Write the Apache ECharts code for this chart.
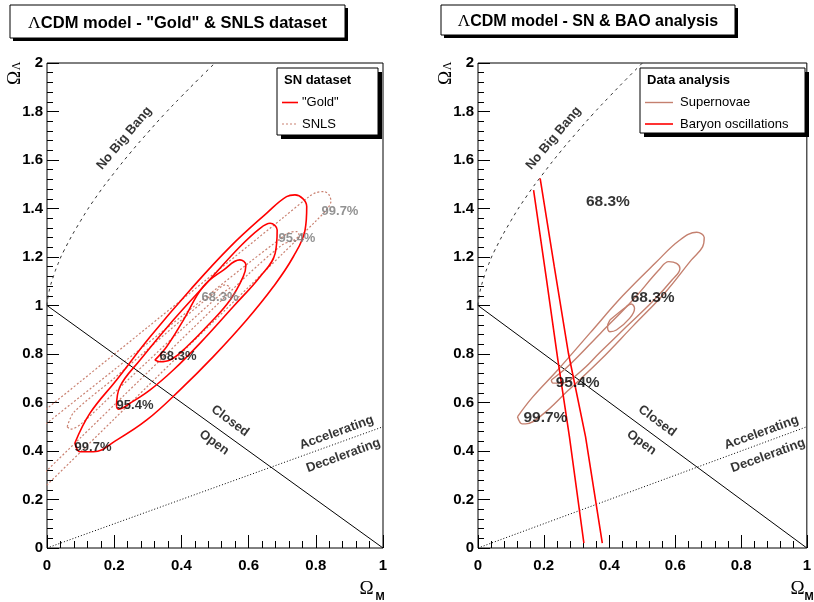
<!DOCTYPE html>
<html><head><meta charset="utf-8">
<script src="https://cdn.jsdelivr.net/npm/echarts@6.0.0/dist/echarts.min.js"></script>
<style>html,body{margin:0;padding:0;background:#fff}#c{width:814px;height:602px}</style>
</head><body><div id="c"></div><script>
// ---- data (Omega_M, Omega_Lambda) ----
const closedLine = [[0, 1], [1, 0]];
const accelLine = [[0, 0], [1, 0.5]];
const noBigBang = [[0, 1.0], [0.001, 1.015], [0.003, 1.036], [0.005, 1.05], [0.01, 1.08], [0.02, 1.124], [0.03, 1.162], [0.05, 1.225], [0.1, 1.349], [0.15, 1.455], [0.2, 1.547], [0.25, 1.633], [0.3, 1.713], [0.35, 1.79], [0.4, 1.862], [0.45, 1.932], [0.5, 2.0]];

const gold683 = [[0.321,0.775],[0.356,0.830],[0.406,0.940],[0.465,1.078],[0.525,1.146],[0.574,1.188],[0.592,1.167],[0.584,1.119],[0.545,1.023],[0.485,0.927],[0.416,0.830],[0.366,0.775],[0.336,0.768],[0.321,0.775]];
const gold954 = [[0.207,0.583],[0.217,0.665],[0.277,0.775],[0.376,0.940],[0.475,1.092],[0.574,1.242],[0.634,1.318],[0.664,1.339],[0.685,1.311],[0.679,1.215],[0.634,1.119],[0.554,0.995],[0.455,0.844],[0.376,0.734],[0.307,0.652],[0.247,0.597],[0.212,0.572],[0.207,0.583]];
const gold997 = [[0.083,0.433],[0.128,0.556],[0.207,0.693],[0.307,0.871],[0.426,1.064],[0.545,1.242],[0.654,1.381],[0.713,1.449],[0.738,1.456],[0.773,1.408],[0.768,1.311],[0.733,1.201],[0.674,1.078],[0.594,0.940],[0.495,0.789],[0.396,0.652],[0.297,0.528],[0.207,0.445],[0.138,0.397],[0.098,0.397],[0.083,0.433]];

const snls683 = [[0.06,0.50],[0.08,0.56],[0.2,0.70],[0.3,0.82],[0.4,0.94],[0.5,1.055],[0.53,1.085],[0.545,1.075],[0.52,1.05],[0.4,0.90],[0.3,0.77],[0.2,0.64],[0.1,0.51],[0.07,0.49],[0.06,0.50]];
const snls954 = [[-0.05,0.46],[0,0.515],[0.1,0.625],[0.2,0.735],[0.3,0.845],[0.4,0.955],[0.5,1.065],[0.6,1.175],[0.68,1.26],[0.72,1.30],[0.745,1.305],[0.75,1.29],[0.735,1.27],[0.7,1.25],[0.6,1.13],[0.5,0.995],[0.4,0.86],[0.3,0.725],[0.2,0.59],[0.1,0.455],[0,0.32],[-0.05,0.2525]];
const snls997 = [[-0.05,0.519],[0,0.575],[0.1,0.687],[0.2,0.799],[0.3,0.911],[0.4,1.023],[0.5,1.135],[0.6,1.247],[0.7,1.359],[0.78,1.449],[0.80,1.465],[0.825,1.47],[0.84,1.455],[0.845,1.43],[0.835,1.40],[0.8,1.348],[0.7,1.212],[0.6,1.076],[0.5,0.94],[0.4,0.804],[0.3,0.668],[0.2,0.532],[0.1,0.396],[0,0.26],[-0.05,0.192]];

const sn683 = [[0.401,0.940],[0.451,0.995],[0.466,1.006],[0.476,0.988],[0.461,0.947],[0.421,0.899],[0.401,0.892],[0.394,0.913],[0.401,0.940]];
const sn954 = [[0.223,0.693],[0.273,0.748],[0.372,0.885],[0.471,1.023],[0.550,1.146],[0.580,1.181],[0.604,1.174],[0.614,1.153],[0.590,1.105],[0.530,1.015],[0.451,0.912],[0.372,0.808],[0.312,0.728],[0.253,0.680],[0.228,0.680],[0.223,0.693]];
const sn997 = [[0.120,0.541],[0.166,0.622],[0.243,0.735],[0.341,0.887],[0.440,1.040],[0.540,1.176],[0.612,1.268],[0.665,1.302],[0.688,1.280],[0.683,1.242],[0.649,1.188],[0.570,1.055],[0.471,0.915],[0.372,0.775],[0.273,0.648],[0.194,0.548],[0.145,0.512],[0.134,0.512],[0.120,0.541]];

const baoLeft = [[0.169,1.476],[0.207,1.12],[0.243,0.775],[0.278,0.459],[0.322,0.02]];
const baoRight = [[0.189,1.524],[0.232,1.16],[0.275,0.803],[0.327,0.459],[0.378,0.02]];

const goldLabels = [[0.390,0.792,'68.3%'],[0.262,0.590,'95.4%'],[0.137,0.416,'99.7%']];
const snlsLabels = [[0.515,1.035,'68.3%'],[0.744,1.278,'95.4%'],[0.872,1.386,'99.7%']];
const rightLabels = [[0.395,1.427,'68.3%'],[0.531,1.031,'68.3%'],[0.303,0.680,'95.4%'],[0.205,0.536,'99.7%']];
const regionLabels = [[0.23,1.69,'No Big Bang',50],[0.545,0.524,'Closed',-36],[0.497,0.435,'Open',-36],[0.862,0.476,'Accelerating',20],[0.882,0.381,'Decelerating',20]];

// ---- chart ----
const SANS = "'Liberation Sans', Arial, Helvetica, sans-serif";
const SERIF = "'Liberation Serif', 'DejaVu Serif', serif";
const SNLS_COLOR = '#c98070';
const SN_COLOR = '#c4806f';
const chart = echarts.init(document.getElementById('c'), null, {renderer: 'canvas'});

function axisX(gi) {
  return {type: 'value', gridIndex: gi, min: 0, max: 1, interval: 0.2,
    axisLine: {show: false}, splitLine: {show: false},
    axisTick: {show: true, inside: true, length: 13, lineStyle: {color: '#000', width: 1}},
    minorTick: {show: true, splitNumber: 5, length: 7, lineStyle: {color: '#000', width: 1}},
    axisLabel: {color: '#000', fontFamily: SANS, fontWeight: 'bold', fontSize: 15, margin: 10, showMaxLabel: true, showMinLabel: true}};
}
function axisY(gi) {
  return {type: 'value', gridIndex: gi, min: 0, max: 2, interval: 0.2,
    axisLine: {show: false}, splitLine: {show: false},
    axisTick: {show: true, inside: true, length: 12, lineStyle: {color: '#000', width: 1}},
    minorTick: {show: true, splitNumber: 5, length: 6, lineStyle: {color: '#000', width: 1}},
    axisLabel: {color: '#000', fontFamily: SANS, fontWeight: 'bold', fontSize: 15, margin: 4, showMaxLabel: true, showMinLabel: true}};
}
function line(gi, data, color, width, type, smooth, z) {
  return {type: 'line', xAxisIndex: gi, yAxisIndex: gi, data: data, symbol: 'none', showSymbol: false,
    smooth: smooth, clip: true, silent: true, animation: false, z: z || 2,
    lineStyle: {color: color, width: width, type: type}};
}
function labels(gi, items, color, size) {
  return {type: 'scatter', xAxisIndex: gi, yAxisIndex: gi, symbol: 'circle', symbolSize: 1, silent: true, animation: false, z: 20,
    itemStyle: {color: 'transparent'},
    data: items.map(d => ({value: [d[0], d[1]], name: d[2], label: {rotate: d[3] || 0}})),
    label: {show: true, position: 'inside', formatter: '{b}', color: color, fontFamily: SANS, fontWeight: 'bold', fontSize: size}};
}

const series = [];
for (const gi of [0, 1]) {
  series.push(line(gi, closedLine, '#000', 1, 'solid', false, 3));
  series.push(line(gi, accelLine, '#000', 1, [1, 2], false, 3));
  series.push(line(gi, noBigBang, '#333', 1, [3, 4], true, 3));
  series.push(labels(gi, regionLabels, '#000', 13));
}
series.push(line(0, snls997, SNLS_COLOR, 1.2, [2, 2], 0.3));
series.push(line(0, snls954, SNLS_COLOR, 1.2, [2, 2], 0.3));
series.push(line(0, snls683, SNLS_COLOR, 1.2, [2, 2], 0.3));
series.push(line(0, gold997, '#ff0000', 1.6, 'solid', 0.4, 4));
series.push(line(0, gold954, '#ff0000', 1.6, 'solid', 0.4, 4));
series.push(line(0, gold683, '#ff0000', 1.6, 'solid', 0.4, 4));
series.push(labels(0, goldLabels, '#000', 13));
series.push(labels(0, snlsLabels, '#777', 13));
series.push(line(1, sn997, SN_COLOR, 1.4, 'solid', 0.4, 4));
series.push(line(1, sn954, SN_COLOR, 1.4, 'solid', 0.4, 4));
series.push(line(1, sn683, SN_COLOR, 1.4, 'solid', 0.4, 4));
series.push(line(1, baoLeft, '#ff0000', 1.6, 'solid', false, 4));
series.push(line(1, baoRight, '#ff0000', 1.6, 'solid', false, 4));
series.push(labels(1, rightLabels, '#000', 15.5));

function titleBox(x, y, w, h, size, text) {
  return [
    {type: 'rect', shape: {x: x + 3, y: y + 3, width: w, height: h}, style: {fill: '#000'}, z: 50},
    {type: 'rect', shape: {x: x, y: y, width: w, height: h}, style: {fill: '#fff', stroke: '#000', lineWidth: 1}, z: 51},
    {type: 'text', x: x + w / 2, y: y + h / 2 + 1.5, z: 52, style: {text: '{g|Λ}{t|' + text + '}', align: 'center', verticalAlign: 'middle',
      rich: {g: {fontFamily: SERIF, fontSize: size + 1, fill: '#000'}, t: {fontFamily: SANS, fontWeight: 'bold', fontSize: size, fill: '#000'}}}}
  ];
}
function legendBox(x, y, w, h, title, entries) {
  const els = [
    {type: 'rect', shape: {x: x + 4, y: y + 4, width: w, height: h}, style: {fill: '#000'}, z: 50},
    {type: 'rect', shape: {x: x, y: y, width: w, height: h}, style: {fill: '#fff', stroke: '#000', lineWidth: 1}, z: 51},
    {type: 'text', x: x + 7, y: y + 12, z: 52, style: {text: title, fontFamily: SANS, fontWeight: 'bold', fontSize: 13, fill: '#000', verticalAlign: 'middle'}}
  ];
  entries.forEach((e, i) => {
    const yy = y + 34.5 + i * 21.5;
    els.push({type: 'line', z: 52, shape: {x1: x + 5, y1: yy, x2: x + e.len, y2: yy}, style: {stroke: e.color, lineWidth: e.width, lineDash: e.dash}});
    els.push({type: 'text', x: x + e.tx, y: yy, z: 52, style: {text: e.text, fontFamily: SANS, fontSize: 13, fill: '#000', verticalAlign: 'middle'}});
  });
  return els;
}
function axisName(ox, oy, lx, ly, sub, rotate) {
  return [
    {type: 'text', x: ox, y: oy, rotation: rotate ? Math.PI / 2 : 0, z: 52, style: {text: 'Ω', fontFamily: SERIF, fontSize: 19, fill: '#000', align: 'center', verticalAlign: 'middle'}},
    {type: 'text', x: lx, y: ly, rotation: rotate ? Math.PI / 2 : 0, z: 52, style: {text: sub, fontFamily: rotate ? SERIF : SANS, fontWeight: rotate ? 'normal' : 'bold', fontSize: rotate ? 12 : 11, fill: '#000', align: 'center', verticalAlign: 'middle'}}
  ];
}

const graphic = [].concat(
  titleBox(10, 5, 335, 33, 16.5, 'CDM model - "Gold" & SNLS dataset'),
  titleBox(441, 5, 294, 30, 16, 'CDM model - SN & BAO analysis'),
  legendBox(277, 68, 101, 67, 'SN dataset', [
    {text: '"Gold"', color: '#ff0000', width: 1.6, dash: null, len: 21, tx: 25},
    {text: 'SNLS', color: SNLS_COLOR, width: 1.2, dash: [2, 2], len: 21, tx: 25}]),
  legendBox(640, 68, 165, 65, 'Data analysis', [
    {text: 'Supernovae', color: SN_COLOR, width: 1.4, dash: null, len: 33, tx: 40},
    {text: 'Baryon oscillations', color: '#ff0000', width: 1.6, dash: null, len: 33, tx: 40}]),
  axisName(366.5, 589, 380, 597, 'M', false),
  axisName(797.5, 589, 809, 597, 'M', false),
  axisName(15, 78, 17, 66, 'Λ', true),
  axisName(446, 78, 448, 66, 'Λ', true)
);

chart.setOption({
  animation: false,
  backgroundColor: '#fff',
  grid: [
    {left: 47, top: 63, width: 336, height: 485, show: true, borderColor: '#000', borderWidth: 1, backgroundColor: 'transparent'},
    {left: 478, top: 63, width: 337, height: 485, show: true, borderColor: '#000', borderWidth: 1, backgroundColor: 'transparent'}
  ],
  xAxis: [axisX(0), axisX(1)],
  yAxis: [axisY(0), axisY(1)],
  series: series,
  graphic: graphic
});
</script></body></html>
